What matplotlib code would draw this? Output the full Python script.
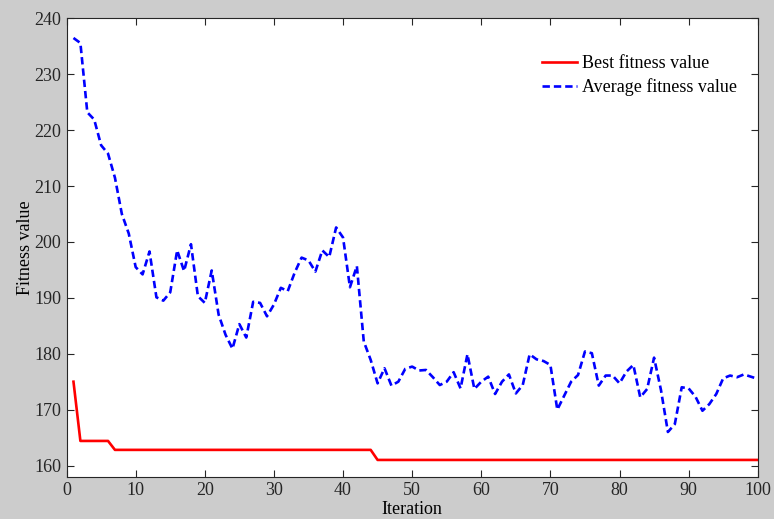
import numpy as np
import matplotlib
matplotlib.use("Agg")
import matplotlib.pyplot as plt

plt.rcParams['font.family'] = ['Liberation Serif', 'DejaVu Serif']

iterations = np.arange(1, 101)

best_fitness = [175.0, 164.4, 164.4, 164.4, 164.4, 164.4] + [162.8] * 38 + [161.0] * 56

avg_fitness = [
    236.5, 235.6, 223.2, 221.9, 217.3, 215.8, 211.5, 205.0, 201.5, 195.5,
    194.2, 198.3, 190.1, 189.5, 191.0, 198.5, 194.8, 199.6, 190.3, 189.1,
    194.9, 187.0, 183.4, 180.9, 185.3, 182.9, 189.3, 189.1, 186.7, 188.8,
    191.8, 191.2, 194.5, 197.2, 196.7, 194.7, 198.5, 197.3, 202.6, 200.8,
    191.9, 195.7, 182.2, 178.9, 174.7, 177.4, 174.3, 175.0, 177.3, 177.7,
    177.0, 177.1, 175.8, 174.4, 175.0, 176.7, 173.8, 179.9, 173.7, 175.0,
    175.9, 172.8, 175.0, 176.3, 172.9, 174.4, 179.9, 179.0, 178.7, 178.0,
    170.0, 172.5, 175.0, 176.2, 180.4, 180.1, 174.3, 176.1, 176.1, 174.7,
    176.8, 178.0, 172.2, 173.7, 179.3, 173.5, 166.0, 167.4, 174.0, 173.8,
    172.3, 169.8, 171.0, 172.8, 175.6, 176.1, 175.8, 176.3, 175.9, 175.5,
]

fig = plt.figure(figsize=(7.74, 5.19), dpi=100, facecolor='#cccccc')
ax = fig.add_axes([0.086, 0.0815, 0.893, 0.883])
ax.set_facecolor('white')

ax.plot(iterations, best_fitness, color='red', linewidth=1.9, label='Best fitness value')
ax.plot(iterations, avg_fitness, color='blue', linewidth=1.9, linestyle=(0, (2.8, 1.5)),
        label='Average fitness value')

ax.set_xlim(0, 100)
ax.set_ylim(158, 240)
ax.set_xticks(np.arange(0, 101, 10))
ax.set_yticks(np.arange(160, 241, 10))
ax.tick_params(direction='in', top=True, right=True, length=5, width=0.8,
               labelsize=13, colors='#262626', pad=4)
for s in ax.spines.values():
    s.set_color('#262626')
    s.set_linewidth(0.8)

ax.set_xlabel('Iteration', fontsize=13, labelpad=1)
ax.set_ylabel('Fitness value', fontsize=13, labelpad=0)

ax.legend(loc='upper right', frameon=False, fontsize=13, handlelength=1.95,
          handletextpad=0.3, bbox_to_anchor=(0.981, 0.935), labelspacing=0.33,
          borderaxespad=0)

fig.savefig('out.png', dpi=100, facecolor=fig.get_facecolor())
